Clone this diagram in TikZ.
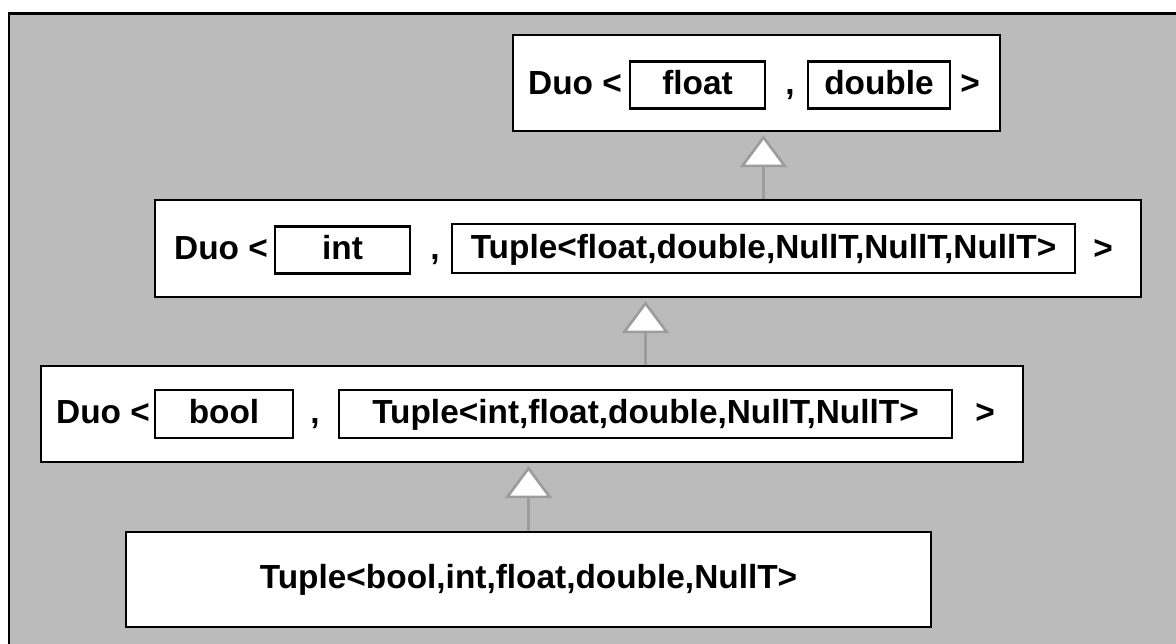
\documentclass[tikz,border=0pt]{standalone}
\usepackage{fontspec}
\setmainfont{Liberation Sans}
\usetikzlibrary{arrows.meta, positioning}
\definecolor{bggray}{HTML}{BBBBBB}
\definecolor{isagray}{HTML}{9C9C9C}

\begin{document}
\begin{tikzpicture}[x=0.02cm, y=-0.02cm, font=\fontsize{19}{22}\selectfont\bfseries]
\tikzstyle{cls}=[draw, line width=1.4pt, fill=white, inner sep=0pt, minimum height=1.92cm]
\tikzstyle{arg}=[draw, line width=1.2pt, fill=white, inner sep=0pt, minimum height=0.94cm, text height=13.5pt, text depth=2.5pt]
\tikzstyle{sym}=[inner sep=0pt, text height=13.5pt, text depth=2.5pt]
\tikzstyle{isa}=[-{Triangle[open, fill=white, length=0.64cm, width=0.94cm]}, draw=isagray, line width=1.5pt, shorten >=0.06cm]

\useasboundingbox (0,0) rectangle (1176,644);
\fill[bggray] (9,14) rectangle (1176,644);
\draw[line width=1.7pt] (1176,14) -- (9,14) -- (9,644);

% Duo<float,double>
\node[cls, minimum width=9.74cm] (top) at (756.5,83) {};
\node[sym] (d1) at (575,85) {Duo <};
\node[arg, minimum width=2.7cm] (a1) at (697.5,85) {float};
\node[sym] (c1) at (790,85) {,};
\node[arg, minimum width=2.84cm] (b1) at (879,85) {double};
\node[sym] (e1) at (970,85) {>};

% Duo<int,Tuple<...>>
\node[cls, minimum width=19.72cm, minimum height=1.94cm] (mid) at (648,248.5) {};
\node[sym] (d2) at (221,250) {Duo <};
\node[arg, minimum width=2.7cm] (a2) at (342.5,250) {int};
\node[sym] (c2) at (435,250) {,};
\node[arg, minimum width=12.46cm, minimum height=0.98cm] (t2) at (763.5,248.5) {Tuple<float,double,NullT,NullT,NullT>};
\node[sym] (e2) at (1103,250) {>};

% Duo<bool,Tuple<...>>
\node[cls, minimum width=19.64cm] (low) at (532,414) {};
\node[sym] (d3) at (103,414) {Duo <};
\node[arg, minimum width=2.76cm, minimum height=0.96cm] (a3) at (224,414) {bool};
\node[sym] (c3) at (315,414) {,};
\node[arg, minimum width=12.26cm, minimum height=0.96cm] (t3) at (645.5,414) {Tuple<int,float,double,NullT,NullT>};
\node[sym] (e3) at (985,414) {>};

% derived tuple
\node[cls, minimum width=16.1cm, minimum height=1.9cm] (base) at (528.5,579.5) {Tuple<bool,int,float,double,NullT>};

\draw[isa] (t2 |- mid.north) -- (t2 |- top.south);
\draw[isa] (t3 |- low.north) -- (t3 |- mid.south);
\draw[isa] (base.north) -- (base.north |- low.south);
\end{tikzpicture}
\end{document}
